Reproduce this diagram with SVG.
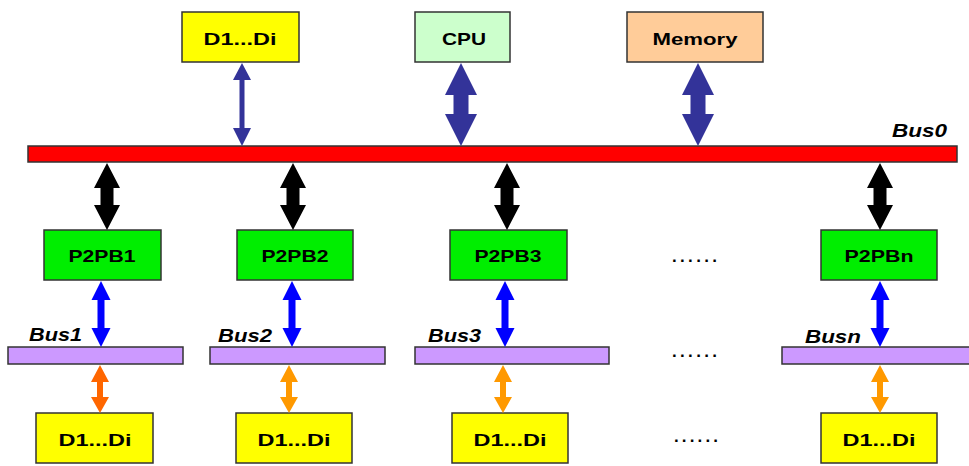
<svg xmlns="http://www.w3.org/2000/svg" width="969" height="466" viewBox="0 0 969 466">
<style>
.box{stroke:#333;stroke-width:1.5}
.yel{fill:#ffff00}.grn{fill:#00ee00}.cpu{fill:#ccffcc}.mem{fill:#ffcc99}.lil{fill:#cc99ff}
.lbl{font-family:"Liberation Sans",Arial,sans-serif;font-weight:bold;font-size:17px;fill:#000;text-anchor:middle}
.bus{font-family:"Liberation Sans",Arial,sans-serif;font-weight:bold;font-style:italic;font-size:18px;fill:#000}
.dots{font-family:"Liberation Sans",Arial,sans-serif;font-weight:bold;font-size:17px;fill:#000}
.navy{fill:#333399}.blk{fill:#000}.blu{fill:#0000ff}.or1{fill:#ff6600}.or2{fill:#ff9900}
</style>
<rect width="969" height="466" fill="#fff"/>
<g id="bus0"><rect class="box" x="28" y="146" width="929" height="16" fill="#ff0000"/><text class="bus" x="892" y="137" textLength="55" lengthAdjust="spacingAndGlyphs">Bus0</text></g>
<g id="dtop"><rect class="box yel" x="182" y="12" width="117" height="50"/><text class="lbl" x="240" y="45" textLength="73" lengthAdjust="spacingAndGlyphs">D1...Di</text></g>
<g id="cpu"><rect class="box cpu" x="415" y="12" width="95" height="50"/><text class="lbl" x="464" y="45" textLength="44" lengthAdjust="spacingAndGlyphs">CPU</text></g>
<g id="memory"><rect class="box mem" x="627" y="12" width="136" height="50"/><text class="lbl" x="695" y="45" textLength="85" lengthAdjust="spacingAndGlyphs">Memory</text></g>
<g id="p2pb1"><rect class="box grn" x="44" y="230" width="117" height="50"/><text class="lbl" x="102" y="262" textLength="67" lengthAdjust="spacingAndGlyphs">P2PB1</text></g>
<g id="p2pb2"><rect class="box grn" x="237" y="230" width="116" height="50"/><text class="lbl" x="295" y="262" textLength="67" lengthAdjust="spacingAndGlyphs">P2PB2</text></g>
<g id="p2pb3"><rect class="box grn" x="450" y="230" width="117" height="50"/><text class="lbl" x="508" y="262" textLength="67" lengthAdjust="spacingAndGlyphs">P2PB3</text></g>
<g id="p2pbn"><rect class="box grn" x="821" y="230" width="116" height="50"/><text class="lbl" x="879" y="262" textLength="69" lengthAdjust="spacingAndGlyphs">P2PBn</text></g>
<g id="bus1"><rect class="box lil" x="8" y="347" width="175" height="17"/><text class="bus" x="29" y="341" textLength="53" lengthAdjust="spacingAndGlyphs">Bus1</text></g>
<g id="bus2"><rect class="box lil" x="210" y="347" width="175" height="17"/><text class="bus" x="218" y="342" textLength="54" lengthAdjust="spacingAndGlyphs">Bus2</text></g>
<g id="bus3"><rect class="box lil" x="415" y="347" width="194" height="17"/><text class="bus" x="428" y="342" textLength="53" lengthAdjust="spacingAndGlyphs">Bus3</text></g>
<g id="busn"><rect class="box lil" x="782" y="347" width="192" height="17"/><text class="bus" x="805" y="343" textLength="56" lengthAdjust="spacingAndGlyphs">Busn</text></g>
<g id="d1"><rect class="box yel" x="36" y="413" width="117" height="50"/><text class="lbl" x="95" y="446" textLength="73" lengthAdjust="spacingAndGlyphs">D1...Di</text></g>
<g id="d2"><rect class="box yel" x="236" y="413" width="116" height="50"/><text class="lbl" x="294" y="446" textLength="73" lengthAdjust="spacingAndGlyphs">D1...Di</text></g>
<g id="d3"><rect class="box yel" x="452" y="413" width="116" height="50"/><text class="lbl" x="510" y="446" textLength="73" lengthAdjust="spacingAndGlyphs">D1...Di</text></g>
<g id="dn"><rect class="box yel" x="821" y="413" width="116" height="50"/><text class="lbl" x="879" y="446" textLength="73" lengthAdjust="spacingAndGlyphs">D1...Di</text></g>
<g id="ellipses">
<text class="dots" x="672" y="262" textLength="45" lengthAdjust="spacing">......</text>
<text class="dots" x="672" y="357" textLength="45" lengthAdjust="spacing">......</text>
<text class="dots" x="674" y="442" textLength="44" lengthAdjust="spacing">......</text>
</g>
<g id="connectors">
<polygon class="navy" points="242,63 251,80 244.5,80 244.5,128 251,128 242,146 233,128 239.5,128 239.5,80 233,80"/>
<polygon class="navy" points="461,63 477,95 468.5,95 468.5,114 477,114 461,146 445,114 453.5,114 453.5,95 445,95"/>
<polygon class="navy" points="698,63 714,95 705.5,95 705.5,114 714,114 698,146 682,114 690.5,114 690.5,95 682,95"/>
<polygon class="blk" points="107,163 120,188 113.5,188 113.5,205 120,205 107,230 94,205 100.5,205 100.5,188 94,188"/>
<polygon class="blk" points="293,163 306,188 299.5,188 299.5,205 306,205 293,230 280,205 286.5,205 286.5,188 280,188"/>
<polygon class="blk" points="507,163 520,188 513.5,188 513.5,205 520,205 507,230 494,205 500.5,205 500.5,188 494,188"/>
<polygon class="blk" points="880,163 893,188 886.5,188 886.5,205 893,205 880,230 867,205 873.5,205 873.5,188 867,188"/>
<polygon class="blu" points="101,281 110.5,300 104.5,300 104.5,328 110.5,328 101,347 91.5,328 97.5,328 97.5,300 91.5,300"/>
<polygon class="blu" points="292,281 301.5,300 295.5,300 295.5,328 301.5,328 292,347 282.5,328 288.5,328 288.5,300 282.5,300"/>
<polygon class="blu" points="505,281 514.5,300 508.5,300 508.5,328 514.5,328 505,347 495.5,328 501.5,328 501.5,300 495.5,300"/>
<polygon class="blu" points="880,281 889.5,300 883.5,300 883.5,328 889.5,328 880,347 870.5,328 876.5,328 876.5,300 870.5,300"/>
<polygon class="or1" points="100,365 109,382 103,382 103,397 109,397 100,413 91,397 97,397 97,382 91,382"/>
<polygon class="or2" points="289,365 298,382 292,382 292,397 298,397 289,413 280,397 286,397 286,382 280,382"/>
<polygon class="or2" points="503,365 512,382 506,382 506,397 512,397 503,413 494,397 500,397 500,382 494,382"/>
<polygon class="or2" points="880,365 889,382 883,382 883,397 889,397 880,413 871,397 877,397 877,382 871,382"/>
</g>
</svg>
